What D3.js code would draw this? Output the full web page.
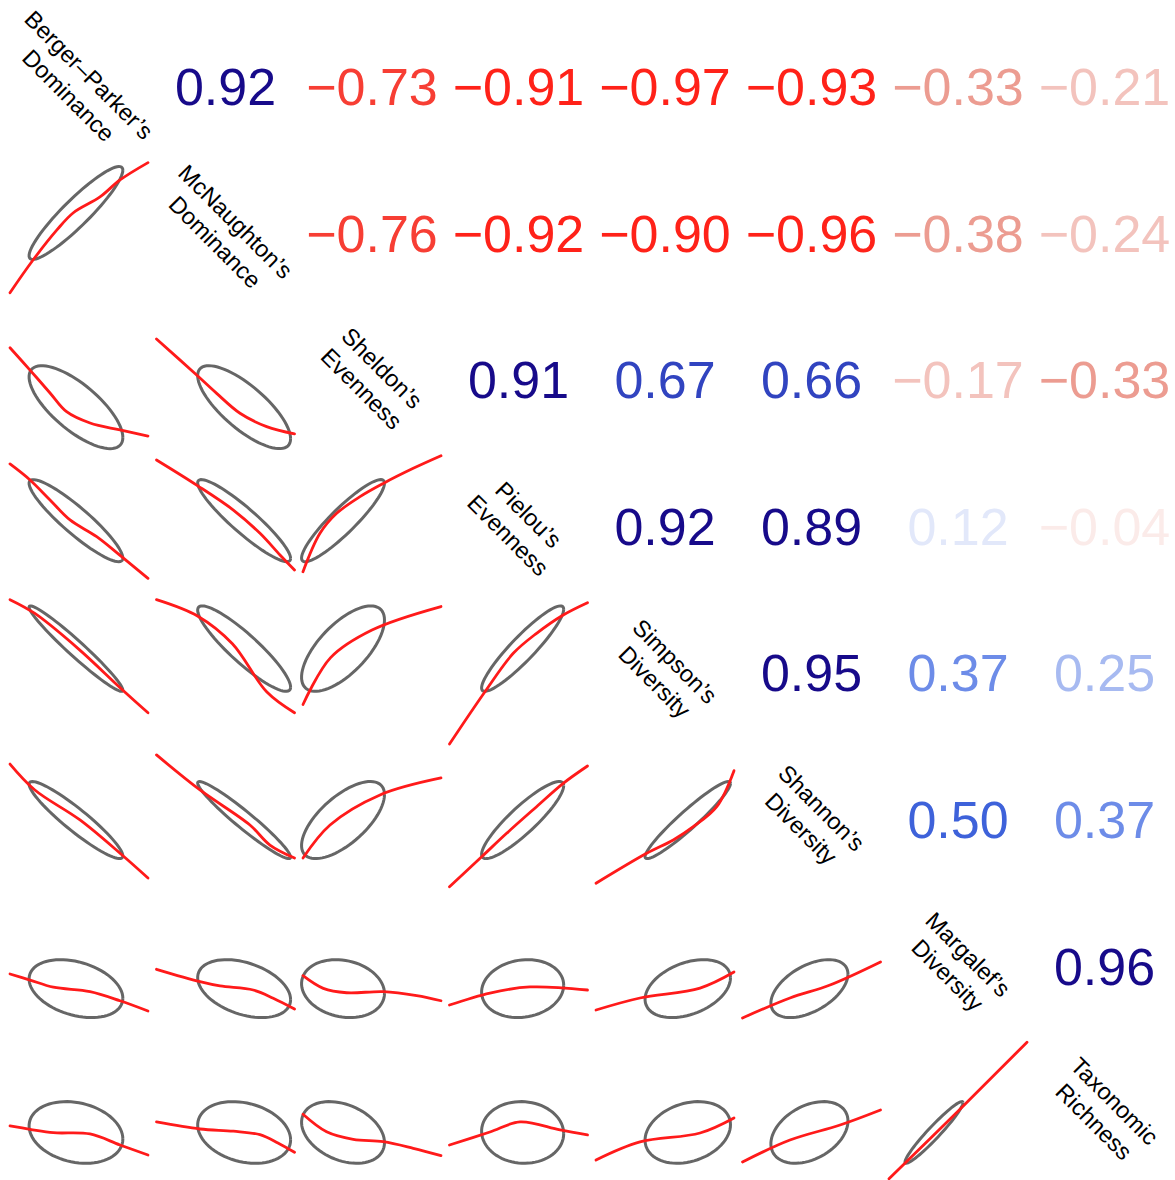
<!DOCTYPE html>
<html>
<head>
<meta charset="utf-8">
<script src="https://cdn.jsdelivr.net/npm/d3@7"></script>
<style>
  html, body { margin: 0; padding: 0; background: #fff; }
  svg { display: block; }
  text { font-family: "Liberation Sans", Arial, Helvetica, sans-serif; }
</style>
</head>
<body>
<svg id="chart" width="1175" height="1180"></svg>
<script>
// Variable names (two lines each, drawn on the diagonal)
const varLabels = [
  ["Berger–Parker’s", "Dominance"],
  ["McNaughton’s", "Dominance"],
  ["Sheldon’s", "Evenness"],
  ["Pielou’s", "Evenness"],
  ["Simpson’s", "Diversity"],
  ["Shannon’s", "Diversity"],
  ["Margalef’s", "Diversity"],
  ["Taxonomic", "Richness"]
];

// Pearson correlation matrix
const corrMatrix = [
  [ 1.00,  0.92, -0.73, -0.91, -0.97, -0.93, -0.33, -0.21],
  [ 0.92,  1.00, -0.76, -0.92, -0.90, -0.96, -0.38, -0.24],
  [-0.73, -0.76,  1.00,  0.91,  0.67,  0.66, -0.17, -0.33],
  [-0.91, -0.92,  0.91,  1.00,  0.92,  0.89,  0.12, -0.04],
  [-0.97, -0.90,  0.67,  0.92,  1.00,  0.95,  0.37,  0.25],
  [-0.93, -0.96,  0.66,  0.89,  0.95,  1.00,  0.50,  0.37],
  [-0.33, -0.38, -0.17,  0.12,  0.37,  0.50,  1.00,  0.96],
  [-0.21, -0.24, -0.33, -0.04,  0.25,  0.37,  0.96,  1.00]
];

// Mean and standard deviation of each variable, rescaled to its own range (0 = min, 1 = max)
const varMean = [0.478, 0.635, 0.290, 0.530, 0.665, 0.485, 0.326, 0.346];
const varSD   = [0.225, 0.223, 0.199, 0.197, 0.205, 0.185, 0.139, 0.148];

// Smoothed (lowess) fits for each lower panel, in rescaled units [x, y]
const smoothFits = [
  { row: 1, col: 0, pts: [[0,0.057],[0.167,0.294],[0.34,0.512],[0.457,0.635],[0.652,0.751],[0.797,0.874],[1,1.0]] },
  { row: 2, col: 0, pts: [[0,0.721],[0.145,0.559],[0.29,0.393],[0.41,0.257],[0.58,0.175],[0.797,0.125],[1,0.081]] },
  { row: 2, col: 1, pts: [[0,0.784],[0.291,0.523],[0.436,0.39],[0.605,0.246],[0.798,0.149],[1,0.096]] },
  { row: 3, col: 0, pts: [[0,0.941],[0.145,0.825],[0.29,0.68],[0.435,0.535],[0.628,0.414],[0.809,0.269],[1,0.112]] },
  { row: 3, col: 1, pts: [[0,0.97],[0.291,0.788],[0.557,0.607],[0.75,0.438],[0.895,0.281],[1,0.172]] },
  { row: 3, col: 2, pts: [[0,0.16],[0.123,0.438],[0.244,0.583],[0.413,0.704],[0.582,0.8],[0.799,0.909],[1,1.0]] },
  { row: 4, col: 0, pts: [[0,1.02],[0.18,0.92],[0.5,0.66],[0.8,0.38],[1,0.2]] },
  { row: 4, col: 1, pts: [[0,1.02],[0.3,0.9],[0.55,0.7],[0.8,0.35],[1,0.2]] },
  { row: 4, col: 2, pts: [[0,0.26],[0.2,0.6],[0.5,0.8],[1,0.97]] },
  { row: 4, col: 3, pts: [[0,-0.026],[0.257,0.353],[0.462,0.631],[0.631,0.776],[0.824,0.909],[1,0.998]] },
  { row: 5, col: 0, pts: [[0,0.891],[0.18,0.703],[0.507,0.486],[0.812,0.232],[1,0.065]] },
  { row: 5, col: 1, pts: [[0,0.957],[0.315,0.703],[0.677,0.449],[0.822,0.304],[1,0.21]] },
  { row: 5, col: 2, pts: [[0,0.21],[0.196,0.449],[0.558,0.667],[1,0.79]] },
  { row: 5, col: 3, pts: [[0,0.002],[0.233,0.219],[0.414,0.389],[0.631,0.582],[0.824,0.751],[1,0.877]] },
  { row: 5, col: 4, pts: [[0,0.027],[0.367,0.244],[0.56,0.341],[0.705,0.437],[0.875,0.582],[1,0.843]] },
  { row: 6, col: 0, pts: [[0,0.432],[0.145,0.388],[0.314,0.336],[0.58,0.304],[0.797,0.238],[1,0.164]] },
  { row: 6, col: 1, pts: [[0,0.466],[0.315,0.376],[0.46,0.345],[0.701,0.316],[0.846,0.256],[1,0.178]] },
  { row: 6, col: 2, pts: [[0,0.42],[0.147,0.328],[0.316,0.296],[0.582,0.304],[0.824,0.275],[1,0.238]] },
  { row: 6, col: 3, pts: [[0,0.207],[0.293,0.294],[0.583,0.338],[1,0.316]] },
  { row: 6, col: 4, pts: [[0,0.171],[0.319,0.258],[0.754,0.33],[1,0.446]] },
  { row: 6, col: 5, pts: [[0,0.113],[0.344,0.258],[0.634,0.352],[1,0.519]] },
  { row: 7, col: 0, pts: [[0,0.393],[0.145,0.369],[0.314,0.344],[0.58,0.335],[0.797,0.255],[1,0.183]] },
  { row: 7, col: 1, pts: [[0,0.422],[0.315,0.371],[0.557,0.355],[0.75,0.33],[0.88,0.27],[1,0.202]] },
  { row: 7, col: 2, pts: [[0,0.478],[0.171,0.351],[0.364,0.296],[0.582,0.279],[0.799,0.231],[1,0.178]] },
  { row: 7, col: 3, pts: [[0,0.255],[0.293,0.349],[0.511,0.422],[0.801,0.364],[1,0.328]] },
  { row: 7, col: 4, pts: [[0,0.146],[0.319,0.277],[0.754,0.342],[1,0.451]] },
  { row: 7, col: 5, pts: [[0,0.132],[0.344,0.291],[0.707,0.4],[1,0.509]] },
  { row: 7, col: 6, pts: [[0,0.01],[0.5,0.5],[1,1.0]] }
];

// ---- layout ----
const n = varLabels.length;
const svg = d3.select("#chart");
const halfSpan = 69;                      // half of a panel's data extent in px
const colCenter = d3.scaleLinear().domain([0, n - 1]).range([79, 79 + 7 * 146.5]);
const rowCenter = d3.scaleLinear().domain([0, n - 1]).range([85, 85 + 7 * 146.6]);

const xScaleFor = c => d3.scaleLinear().domain([0, 1])
  .range([colCenter(c) - halfSpan, colCenter(c) + halfSpan]);
const yScaleFor = r => d3.scaleLinear().domain([0, 1])
  .range([rowCenter(r) + halfSpan, rowCenter(r) - halfSpan]);

// Diverging palette: red - salmon - white - royalblue - navy, 14 bins
const nBins = 14;
const palette = d3.quantize(
  d3.piecewise(d3.interpolateRgb, ["#ff2219", "#e67e70", "#ffffff", "#4169e1", "#170a8a"]), nBins);
const binOf = d3.scaleQuantize().domain([-1, 1]).range(d3.range(nBins));
const corrColor = r => palette[binOf(r)];
const fmt = d3.format(".2f");

// ---- upper panels: correlation coefficients ----
const upper = [];
for (let i = 0; i < n; i++) for (let j = i + 1; j < n; j++) upper.push({ row: i, col: j, r: corrMatrix[i][j] });

svg.append("g").attr("class", "coefs")
  .selectAll("text").data(upper).join("text")
  .attr("x", d => colCenter(d.col))
  .attr("y", d => rowCenter(d.row) + 20)
  .attr("text-anchor", "middle")
  .attr("font-size", 52)
  .attr("fill", d => corrColor(d.r))
  .text(d => fmt(d.r));

// ---- diagonal: variable names ----
const diag = svg.append("g").attr("class", "labels")
  .selectAll("g").data(varLabels).join("g")
  .attr("transform", (d, i) => `translate(${colCenter(i)},${rowCenter(i)}) rotate(45)`);
diag.selectAll("text").data(d => d).join("text")
  .attr("x", 0)
  .attr("y", (d, k) => (k - 0.5) * 29 + 8.5)
  .attr("text-anchor", "middle")
  .attr("font-size", 23.5)
  .attr("fill", "#000")
  .text(d => d);

// ---- lower panels: data ellipses + smooth ----
const ellipseRadius = 1.51;               // sqrt(2 * qf(0.68, 2, df))
const angles = d3.range(0, 76).map(k => 2 * Math.PI * k / 75);
const lower = [];
for (let i = 1; i < n; i++) for (let j = 0; j < i; j++) lower.push({ row: i, col: j, r: corrMatrix[i][j] });

const ellG = svg.append("g").attr("class", "ellipses");
lower.forEach(d => {
  const xs = xScaleFor(d.col), ys = yScaleFor(d.row);
  const mx = varMean[d.col], my = varMean[d.row];
  const sx = varSD[d.col], sy = varSD[d.row];
  const pts = angles.map(t => [
    mx + ellipseRadius * sx * Math.cos(t),
    my + ellipseRadius * sy * (d.r * Math.cos(t) + Math.sqrt(1 - d.r * d.r) * Math.sin(t))
  ]);
  ellG.append("path")
    .attr("d", d3.line().x(p => xs(p[0])).y(p => ys(p[1]))(pts))
    .attr("fill", "none")
    .attr("stroke", "#666666")
    .attr("stroke-width", 3);
});

const smG = svg.append("g").attr("class", "smooths");
smoothFits.forEach(f => {
  const xs = xScaleFor(f.col), ys = yScaleFor(f.row);
  smG.append("path")
    .attr("d", d3.line().curve(d3.curveCatmullRom.alpha(0.5)).x(p => xs(p[0])).y(p => ys(p[1]))(f.pts))
    .attr("fill", "none")
    .attr("stroke", "#ff1a1a")
    .attr("stroke-width", 2.8)
    .attr("stroke-linecap", "round");
});
</script>
</body>
</html>
